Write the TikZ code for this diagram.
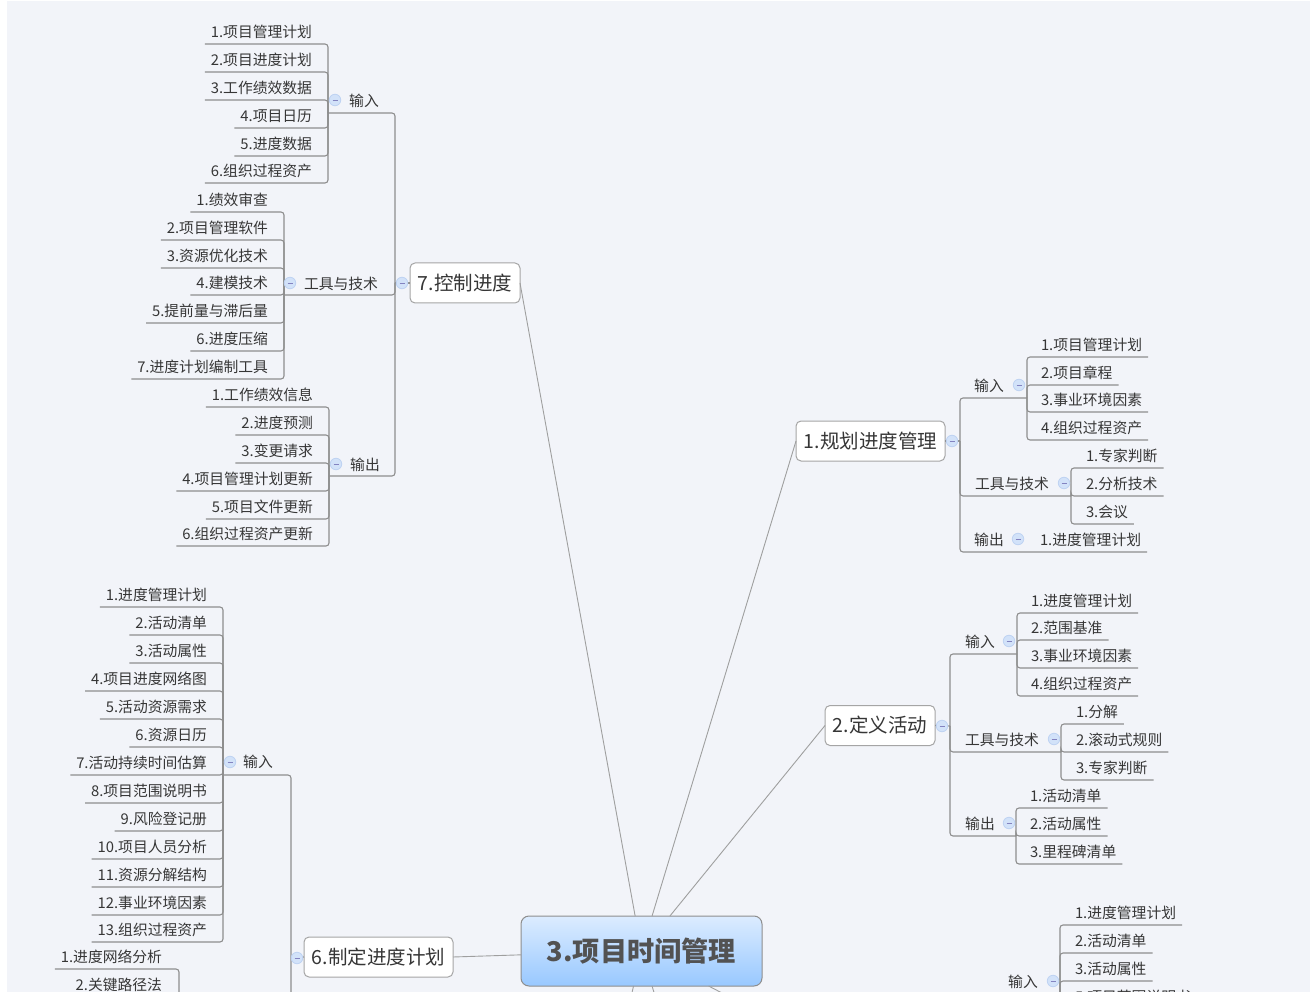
\documentclass[tikz,border=0pt]{standalone}
\usepackage{fontspec}
\setmainfont{Noto Sans CJK SC}
\definecolor{paper}{HTML}{F2F4F9}
\definecolor{linkgray}{HTML}{8E8E8E}
\definecolor{textgray}{HTML}{363636}
\definecolor{rootdark}{HTML}{98C8FF}
\definecolor{rootpale}{HTML}{DCECFF}
\definecolor{foldfill}{HTML}{D2E2F9}
\definecolor{folddraw}{HTML}{BFD3F2}
\tikzset{
	link/.style={draw=linkgray,line width=1.1pt,rounded corners=3pt},
	spoke/.style={draw=linkgray!85,line width=.9pt},
	leaf/.style={text=textgray,font=\fontsize{14.8}{16}\selectfont,inner xsep=6pt,inner ysep=0pt,text height=10.5pt,text depth=6.8pt,outer sep=0pt},
	branch/.style={text=textgray,font=\fontsize{14.8}{16}\selectfont,inner sep=0pt,yshift=-.6pt},
	subject/.style={draw=linkgray!80,fill=white,text=textgray,rounded corners=5pt,font=\fontsize{19.5}{22}\selectfont,inner sep=0pt,minimum height=40pt,outer sep=0pt,line width=1pt},
	root/.style={draw=linkgray,top color=rootpale,bottom color=rootdark,text=black!68,rounded corners=8pt,font=\fontsize{27.2}{30}\selectfont\bfseries,minimum width=241pt,minimum height=70pt,inner sep=0pt,outer sep=0pt,line width=1pt},
	foldmark/.style={circle,draw=folddraw,fill=foldfill,minimum size=11.5pt,inner sep=0pt,line width=.8pt,
		path picture={\draw[linkgray!70!blue!80,line width=.7pt] ([xshift=-2.5pt]path picture bounding box.center) -- ([xshift=2.5pt]path picture bounding box.center);}}
}
\begin{document}
\begin{tikzpicture}[x=1pt,y=-1pt]
	\useasboundingbox (0,0) rectangle (1310,992);
	\clip (0,0) rectangle (1310,992);
	\fill[paper] (7,1) rectangle (1310,992);
	% centre and subjects
	\node[root] (root) at (641.5,951) {3.项目时间管理};
	\node[subject,minimum width=110pt] (n7) at (465,283) {7.控制进度};
	\node[subject,minimum width=149pt] (n1) at (870.5,441) {1.规划进度管理};
	\node[subject,minimum width=110pt] (n2) at (880,725.5) {2.定义活动};
	\node[subject,minimum width=149pt] (n6) at (378.5,957) {6.制定进度计划};
	\coordinate (s4) at (626,1019);
	\coordinate (s5) at (662,1019);
	\coordinate (s3) at (772,1019);
	\draw[spoke] (n7.east) -- (root);
	\draw[spoke] (n1.west) -- (root);
	\draw[spoke] (n2.west) -- (root);
	\draw[spoke] (n6.east) -- (root);
	\draw[spoke] (root) -- (s4);
	\draw[spoke] (root) -- (s5);
	\draw[spoke] (root) -- (s3);
	% 7
	\coordinate (t7) at (395,283);
	\coordinate (c71) at (328,113);
	\coordinate (c72) at (284,295);
	\coordinate (c73) at (329,476);
	\draw[link] (n7.west) -- (t7);
	\draw[link] (t7) |- (c71);
	\draw[link] (t7) |- (c72);
	\draw[link] (t7) |- (c73);
	\node[branch] (b71) at (364,100) {输入};
	\node[branch] (b72) at (341,283) {工具与技术};
	\node[branch] (b73) at (365,464) {输出};
	\foreach \n/\y/\txt in {1/44/1.项目管理计划,2/72/2.项目进度计划,3/100/3.工作绩效数据,4/128/4.项目日历,5/156/5.进度数据,6/183/6.组织过程资产}{
		\node[leaf,anchor=south east] (a\n) at (318,\y) {\txt};
		\draw[link] (c71) |- (a\n.south west);
	}
	\foreach \n/\y/\txt in {1/212/1.绩效审查,2/240/2.项目管理软件,3/268/3.资源优化技术,4/295/4.建模技术,5/323/5.提前量与滞后量,6/351/6.进度压缩,7/379/7.进度计划编制工具}{
		\node[leaf,anchor=south east] (e\n) at (274,\y) {\txt};
		\draw[link] (c72) |- (e\n.south west);
	}
	\foreach \n/\y/\txt in {1/407/1.工作绩效信息,2/435/2.进度预测,3/463/3.变更请求,4/491/4.项目管理计划更新,5/519/5.项目文件更新,6/546/6.组织过程资产更新}{
		\node[leaf,anchor=south east] (o\n) at (319,\y) {\txt};
		\draw[link] (c73) |- (o\n.south west);
	}
	\node[foldmark] (f7) at (402,283) {};
	\node[foldmark] (f71) at (335,100) {};
	\node[foldmark] (f72) at (290,283) {};
	\node[foldmark] (f73) at (336,464) {};
	% 1
	\coordinate (t1) at (960,441);
	\coordinate (c11) at (1027,398);
	\coordinate (c12) at (1071,496);
	\draw[link] (n1.east) -- (t1);
	\draw[link] (t1) |- (c11);
	\draw[link] (t1) |- (c12);
	\node[branch] (b11) at (989,385) {输入};
	\node[branch] (b12) at (1012,483) {工具与技术};
	\node[branch] (b13) at (989,539) {输出};
	\foreach \n/\y/\txt in {1/357/1.项目管理计划,2/385/2.项目章程,3/412/3.事业环境因素,4/440/4.组织过程资产}{
		\node[leaf,anchor=south west] (p\n) at (1035,\y) {\txt};
		\draw[link] (c11) |- (p\n.south east);
	}
	\foreach \n/\y/\txt in {1/468/1.专家判断,2/496/2.分析技术,3/524/3.会议}{
		\node[leaf,anchor=south west] (q\n) at (1080,\y) {\txt};
		\draw[link] (c12) |- (q\n.south east);
	}
	\node[leaf,anchor=south west] (r1) at (1034,552) {1.进度管理计划};
	\draw[link] (t1) |- (r1.south east);
	\node[foldmark] (f1) at (952,441) {};
	\node[foldmark] (f11) at (1019,385) {};
	\node[foldmark] (f12) at (1064,483) {};
	\node[foldmark] (f13) at (1018,539) {};
	% 2
	\coordinate (t2) at (950,726);
	\coordinate (c21) at (1017,654);
	\coordinate (c22) at (1061,752);
	\coordinate (c23) at (1016,836);
	\draw[link] (n2.east) -- (t2);
	\draw[link] (t2) |- (c21);
	\draw[link] (t2) |- (c22);
	\draw[link] (t2) |- (c23);
	\node[branch] (b21) at (980,641) {输入};
	\node[branch] (b22) at (1002,739) {工具与技术};
	\node[branch] (b23) at (980,823) {输出};
	\foreach \n/\y/\txt in {1/613/1.进度管理计划,2/640/2.范围基准,3/668/3.事业环境因素,4/696/4.组织过程资产}{
		\node[leaf,anchor=south west] (u\n) at (1025,\y) {\txt};
		\draw[link] (c21) |- (u\n.south east);
	}
	\foreach \n/\y/\txt in {1/724/1.分解,2/752/2.滚动式规则,3/780/3.专家判断}{
		\node[leaf,anchor=south west] (v\n) at (1070,\y) {\txt};
		\draw[link] (c22) |- (v\n.south east);
	}
	\foreach \n/\y/\txt in {1/808/1.活动清单,2/836/2.活动属性,3/864/3.里程碑清单}{
		\node[leaf,anchor=south west] (w\n) at (1024,\y) {\txt};
		\draw[link] (c23) |- (w\n.south east);
	}
	\node[foldmark] (f2) at (942,726) {};
	\node[foldmark] (f21) at (1009,641) {};
	\node[foldmark] (f22) at (1054,739) {};
	\node[foldmark] (f23) at (1009,823) {};
	% 3, cut off by the bottom edge
	\coordinate (c31) at (1060,994);
	\node[branch] (b31) at (1023,981) {输入};
	\foreach \n/\y/\txt in {1/925/1.进度管理计划,2/953/2.活动清单,3/981/3.活动属性,5/1009/5.项目范围说明书}{
		\node[leaf,anchor=south west] (x\n) at (1069,\y) {\txt};
		\draw[link] (c31) |- (x\n.south east);
	}
	\node[foldmark] (f31) at (1053,981) {};
	% 6
	\coordinate (t6) at (291,958);
	\coordinate (c61) at (223,775);
	\coordinate (c62) at (179,1040);
	\draw[link] (n6.west) -- (t6);
	\draw[link] (t6) |- (c61);
	\draw[link] (t6) |- (c62);
	\node[branch] (b61) at (258,761) {输入};
	\foreach \n/\y/\txt in {1/607/1.进度管理计划,2/635/2.活动清单,3/663/3.活动属性,4/691/4.项目进度网络图,5/719/5.活动资源需求,6/747/6.资源日历,7/775/7.活动持续时间估算,8/803/8.项目范围说明书,9/831/9.风险登记册,10/859/10.项目人员分析,11/887/11.资源分解结构,12/915/12.事业环境因素,13/942/13.组织过程资产}{
		\node[leaf,anchor=south east] (g\n) at (213,\y) {\txt};
		\draw[link] (c61) |- (g\n.south west);
	}
	\foreach \n/\y/\txt in {1/969/1.进度网络分析,2/997/2.关键路径法}{
		\node[leaf,anchor=south east] (h\n) at (168,\y) {\txt};
		\draw[link] (c62) |- (h\n.south west);
	}
	\node[foldmark] (f6) at (297,958) {};
	\node[foldmark] (f61) at (230,762) {};
\end{tikzpicture}
\end{document}
